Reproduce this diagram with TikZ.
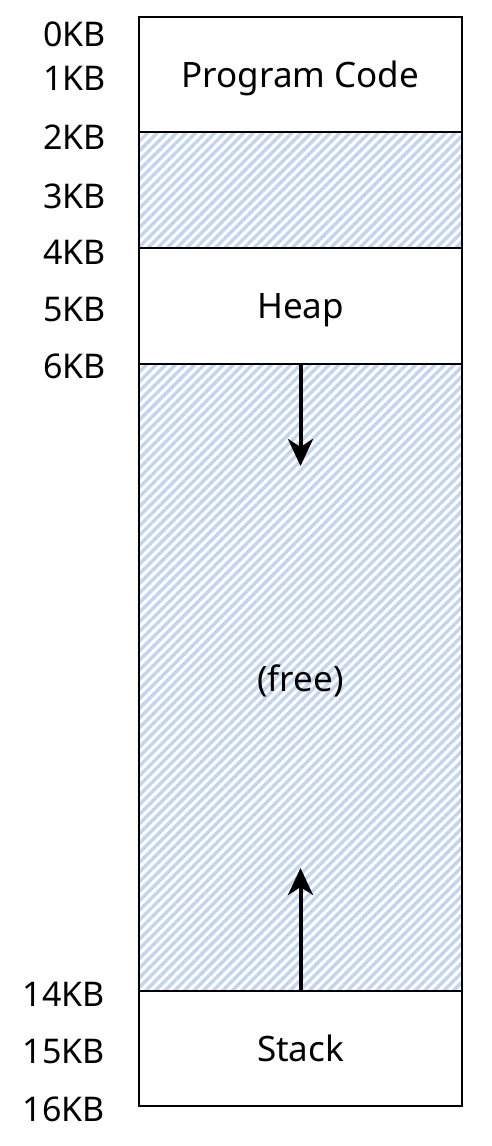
\documentclass[tikz,border=0pt]{standalone}
\usepackage{fontspec}
\setmainfont{Noto Sans}
\usepackage{tikz}
\usetikzlibrary{patterns.meta,arrows.meta}
\definecolor{freecolor}{HTML}{c3d4ef}

\tikzset{
  seg/.style={draw, line width=2.5pt, rectangle, minimum width=323pt, inner sep=0pt, fill=white, text height=25pt, text depth=0pt, font=\fontsize{35}{40}\selectfont},
  freeseg/.style={draw, line width=2.5pt, rectangle, minimum width=323pt, inner sep=0pt, pattern={Lines[angle=45, distance=6.8pt, line width=3.4pt]}, pattern color=freecolor},
  kblabel/.style={anchor=east, inner sep=0pt, text height=24.3pt, text depth=0pt, font=\fontsize{34}{40}\selectfont},
  growarrow/.style={line width=4pt, -{Stealth[length=27pt, width=25pt, inset=8pt]}}
}

\begin{document}
\begin{tikzpicture}[x=1pt, y=-1pt]%
\useasboundingbox (0,0) rectangle (492,1146);%
\node[freeseg, minimum height=116pt] (gap) at (300.5, 190) {};%
\node[freeseg, minimum height=627pt] (free) at (300.5, 677.5) {};%
\node[seg, minimum height=115pt] (code) at (300.5, 74.5) {Program Code};%
\node[seg, minimum height=116pt] (heap) at (300.5, 306) {Heap};%
\node[seg, minimum height=115pt] (stack) at (300.5, 1048.5) {Stack};%
\node[inner sep=0pt, text height=25pt, text depth=0pt, font=\fontsize{35}{40}\selectfont] (freetext) at (300.5, 679) {(free)};%
\coordinate (heaptip) at (300.5, 466);%
\coordinate (stacktip) at (300.5, 868);%
\draw[growarrow] (heap.south) -- (heaptip);%
\draw[growarrow] (stack.north) -- (stacktip);%
\node[kblabel] (kb0) at (106, 34) {0KB};%
\node[kblabel] (kb1) at (106, 78) {1KB};%
\node[kblabel] (kb2) at (106, 137) {2KB};%
\node[kblabel] (kb3) at (106, 196) {3KB};%
\node[kblabel] (kb4) at (106, 252) {4KB};%
\node[kblabel] (kb5) at (106, 309) {5KB};%
\node[kblabel] (kb6) at (106, 366) {6KB};%
\node[kblabel] (kb14) at (105, 994) {14KB};%
\node[kblabel] (kb15) at (105, 1051) {15KB};%
\node[kblabel] (kb16) at (105, 1109) {16KB};%
\end{tikzpicture}
\end{document}
